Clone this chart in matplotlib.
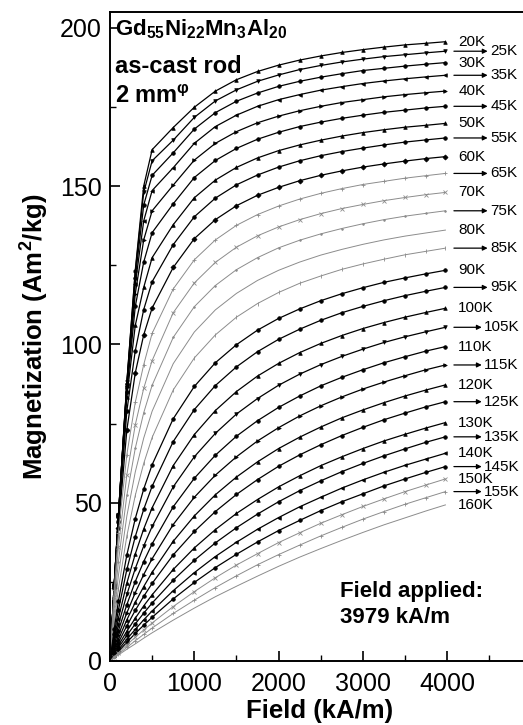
import matplotlib
matplotlib.use("Agg")
import matplotlib.pyplot as plt

plt.rcParams['font.family'] = ['Liberation Sans', 'DejaVu Sans']
plt.rcParams['mathtext.fontset'] = 'custom'
plt.rcParams['mathtext.rm'] = 'Liberation Sans:bold'
plt.rcParams['mathtext.it'] = 'Liberation Sans:bold'
plt.rcParams['mathtext.bf'] = 'Liberation Sans:bold'
plt.rcParams['mathtext.default'] = 'rm'

# applied field (kA/m)
field = [0, 50, 100, 200, 300, 400, 500, 750, 1000, 1250, 1500, 1750,
         2000, 2250, 2500, 2750, 3000, 3250, 3500, 3750, 3979]

temps = [20, 25, 30, 35, 40, 45, 50, 55, 60, 65, 70, 75, 80, 85, 90,
         95, 100, 105, 110, 115, 120, 125, 130, 135, 140, 145, 150, 155, 160]

# magnetization (Am2/kg)
m20 = [0, 24, 46, 88, 123.5, 150, 161.5, 168.5, 174.9, 180.0, 183.6, 186.2, 188.2, 189.8, 191.1, 192.2, 193.1, 193.9, 194.6, 195.1, 195.6]
m25 = [0, 24, 46, 88, 123, 148, 158, 164.5, 171.7, 176.9, 180.4, 183.1, 185.1, 186.8, 188.1, 189.2, 190.1, 190.9, 191.5, 192.1, 192.6]
m30 = [0, 24, 46, 87.5, 121, 144, 153.4, 160.5, 168.0, 173.2, 176.8, 179.4, 181.5, 183.1, 184.4, 185.5, 186.5, 187.2, 187.9, 188.5, 189.0]
m35 = [0, 24, 46, 87, 119, 139, 148.6, 155.8, 163.5, 168.8, 172.4, 175.2, 177.3, 178.9, 180.3, 181.4, 182.4, 183.2, 183.9, 184.5, 185.0]
m40 = [0, 24, 46, 86.5, 116, 133, 142.2, 150.3, 158.2, 163.5, 167.2, 170.0, 172.1, 173.8, 175.2, 176.4, 177.3, 178.2, 178.9, 179.5, 180.0]
m45 = [0, 24, 45.5, 85, 112, 126, 135.3, 144.4, 152.7, 158.1, 161.9, 164.8, 167.0, 168.8, 170.2, 171.4, 172.4, 173.3, 174.0, 174.7, 175.2]
m50 = [0, 23.8, 45, 83.5, 106, 118, 127.4, 137.8, 146.3, 151.9, 155.9, 158.9, 161.2, 163.0, 164.5, 165.8, 166.9, 167.8, 168.6, 169.2, 169.8]
m55 = [0, 23.5, 44, 79, 98, 111, 119.8, 131.5, 140.3, 146.2, 150.4, 153.5, 156.0, 158.0, 159.6, 160.9, 162.0, 163.0, 163.9, 164.6, 165.2]
m60 = [0, 23, 42, 73, 91, 103, 111.5, 124.3, 133.4, 139.4, 143.8, 147.1, 149.6, 151.7, 153.4, 154.8, 156.0, 157.0, 157.9, 158.7, 159.3]
m65 = [0, 22.5, 40.5, 65.2, 81.7, 93.6, 103.5, 117.5, 126.7, 133.0, 137.6, 141.0, 143.7, 145.9, 147.7, 149.2, 150.5, 151.5, 152.5, 153.3, 154.0]
m70 = [0, 20.2, 36.0, 58.8, 74.6, 86.1, 94.9, 110.0, 119.4, 125.9, 130.7, 134.3, 137.1, 139.4, 141.3, 142.9, 144.2, 145.4, 146.4, 147.3, 148.0]
m75 = [0, 17.5, 31.4, 52.3, 67.2, 78.4, 87.1, 102.2, 111.9, 118.6, 123.6, 127.4, 130.5, 132.9, 134.9, 136.6, 138.1, 139.4, 140.5, 141.4, 142.2]
m80 = [0, 14.8, 27.0, 45.8, 59.7, 70.4, 78.9, 93.9, 103.9, 110.9, 116.1, 120.2, 123.4, 126.0, 128.2, 130.0, 131.6, 133.0, 134.2, 135.2, 136.1]
m85 = [0, 12.4, 22.8, 39.5, 52.3, 62.4, 70.6, 85.6, 95.7, 103.0, 108.6, 112.9, 116.4, 119.3, 121.6, 123.7, 125.4, 126.9, 128.3, 129.4, 130.4]
m90 = [0, 10.1, 18.9, 33.5, 45.0, 54.3, 62.0, 76.5, 86.7, 94.2, 99.9, 104.5, 108.2, 111.2, 113.8, 116.0, 117.9, 119.6, 121.0, 122.3, 123.4]
m95 = [0, 8.5, 16.1, 28.9, 39.3, 47.9, 55.2, 69.3, 79.4, 87.0, 92.9, 97.7, 101.6, 104.8, 107.6, 110.0, 112.0, 113.8, 115.4, 116.8, 118.0]
m100 = [0, 7.1, 13.5, 24.6, 33.8, 41.7, 48.4, 61.7, 71.5, 79.1, 85.1, 90.0, 94.0, 97.4, 100.3, 102.8, 105.0, 106.9, 108.6, 110.1, 111.4]
m105 = [0, 5.9, 11.4, 21.0, 29.2, 36.3, 42.5, 55.0, 64.5, 71.9, 78.0, 82.9, 87.1, 90.6, 93.6, 96.2, 98.5, 100.6, 102.4, 104.0, 105.4]
m110 = [0, 5.0, 9.6, 17.8, 25.1, 31.4, 37.0, 48.7, 57.7, 65.0, 71.0, 75.9, 80.1, 83.7, 86.9, 89.6, 92.0, 94.2, 96.1, 97.9, 99.3]
m115 = [0, 4.2, 8.1, 15.2, 21.6, 27.3, 32.3, 43.1, 51.7, 58.7, 64.5, 69.5, 73.7, 77.4, 80.6, 83.4, 85.9, 88.1, 90.1, 92.0, 93.5]
m120 = [0, 3.5, 6.8, 13.0, 18.5, 23.5, 28.0, 37.8, 45.8, 52.5, 58.1, 62.9, 67.1, 70.7, 73.9, 76.8, 79.3, 81.6, 83.7, 85.6, 87.2]
m125 = [0, 3.0, 5.8, 11.1, 16.0, 20.4, 24.5, 33.5, 40.9, 47.2, 52.6, 57.3, 61.5, 65.1, 68.3, 71.2, 73.8, 76.2, 78.3, 80.3, 81.9]
m130 = [0, 2.5, 4.9, 9.4, 13.5, 17.4, 20.9, 28.9, 35.7, 41.5, 46.6, 51.0, 55.0, 58.5, 61.7, 64.5, 67.1, 69.5, 71.6, 73.6, 75.3]
m135 = [0, 2.1, 4.2, 8.1, 11.7, 15.1, 18.3, 25.5, 31.8, 37.3, 42.1, 46.4, 50.3, 53.8, 56.9, 59.8, 62.4, 64.8, 67.0, 69.1, 70.8]
m140 = [0, 1.8, 3.5, 6.9, 10.0, 13.0, 15.8, 22.2, 27.9, 33.0, 37.5, 41.6, 45.3, 48.7, 51.7, 54.6, 57.2, 59.6, 61.8, 63.8, 65.6]
m145 = [0, 1.5, 3.0, 5.9, 8.7, 11.3, 13.8, 19.6, 24.8, 29.5, 33.7, 37.6, 41.2, 44.4, 47.5, 50.3, 52.8, 55.3, 57.5, 59.6, 61.4]
m150 = [0, 1.3, 2.6, 5.1, 7.5, 9.8, 12.0, 17.2, 21.9, 26.3, 30.3, 33.9, 37.4, 40.5, 43.5, 46.2, 48.8, 51.2, 53.5, 55.6, 57.5]
m155 = [0, 1.1, 2.2, 4.3, 6.4, 8.4, 10.4, 15.0, 19.2, 23.2, 26.9, 30.4, 33.6, 36.6, 39.5, 42.2, 44.8, 47.2, 49.5, 51.6, 53.5]
m160 = [0, 0.9, 1.9, 3.7, 5.4, 7.2, 8.9, 12.9, 16.7, 20.3, 23.6, 26.8, 29.9, 32.8, 35.5, 38.1, 40.6, 43.0, 45.2, 47.4, 49.3]

curves = [m20, m25, m30, m35, m40, m45, m50, m55, m60, m65, m70, m75, m80, m85, m90,
          m95, m100, m105, m110, m115, m120, m125, m130, m135, m140, m145, m150, m155, m160]

# plotting style per isotherm
markers = ['^', 'v', 'o', '<', '>', 'o', '^', 'o', 'D', '+', 'x', '.', '', '|', 'o',
           'o', '^', 'v', 'o', '>', '^', 'o', '^', 'o', '<', 'o', 'x', '+', '']
grey_set = {65, 70, 75, 80, 85, 150, 155, 160}

fig = plt.figure(figsize=(5.23, 7.25), dpi=100)
ax = fig.add_axes([0.2103, 0.0883, 0.8059, 0.8952])

for T, m, mk in zip(temps, curves, markers):
    if T in grey_set:
        ax.plot(field, m, color='#8c8c8c', lw=0.7, marker=mk, ms=2.3, mew=0.6)
    else:
        ax.plot(field, m, color='black', lw=0.9, marker=mk, ms=2.6, mew=0.5)

# temperature labels at curve ends
for i, (T, m) in enumerate(zip(temps, curves)):
    y = m[-1]
    if i % 2 == 0:
        ax.text(4130, y, f'{T}K', fontsize=11, va='center', ha='left')
    else:
        x_end = 4480 if T < 100 else 4410
        ax.annotate('', xy=(x_end, y), xytext=(4080, y),
                    arrowprops=dict(arrowstyle='-|>', color='black', lw=0.9,
                                    mutation_scale=7, shrinkA=0, shrinkB=0))
        ax.text(x_end + 30, y, f'{T}K', fontsize=11, va='center', ha='left')

ax.text(60, 197.7, r'Gd$_{55}$Ni$_{22}$Mn$_{3}$Al$_{20}$', fontsize=16,
        fontweight='bold', va='baseline')
ax.text(60, 185.7, 'as-cast rod', fontsize=17, fontweight='bold', va='baseline')
ax.text(60, 176.2, r'2 mm$^{φ}$', fontsize=17, fontweight='bold', va='baseline')

ax.text(2728, 21.8, 'Field applied:', fontsize=16, fontweight='bold', va='center')
ax.text(2728, 13.6, '3979 kA/m', fontsize=16, fontweight='bold', va='center')

ax.set_xlim(0, 5000)
ax.set_ylim(0, 205)
ax.set_xticks([0, 1000, 2000, 3000, 4000])
ax.set_xticks([500, 1500, 2500, 3500, 4500], minor=True)
ax.set_yticks([0, 50, 100, 150, 200])
ax.set_yticks([25, 75, 125, 175], minor=True)
ax.tick_params(which='major', direction='in', length=7, width=1.2, labelsize=18)
ax.tick_params(axis='x', which='major', pad=8)
ax.tick_params(axis='y', which='major', pad=6)
ax.tick_params(which='minor', direction='in', length=4, width=1.0)
for s in ax.spines.values():
    s.set_linewidth(1.4)

ax.set_xlabel('Field (kA/m)', fontsize=18.5, fontweight='bold')
ax.set_ylabel('Magnetization (Am$^2$/kg)', fontsize=18.5, fontweight='bold')
ax.xaxis.set_label_coords(0.498, -0.058)
ax.yaxis.set_label_coords(-0.14, 0.5)

fig.savefig('out.png', dpi=100)
